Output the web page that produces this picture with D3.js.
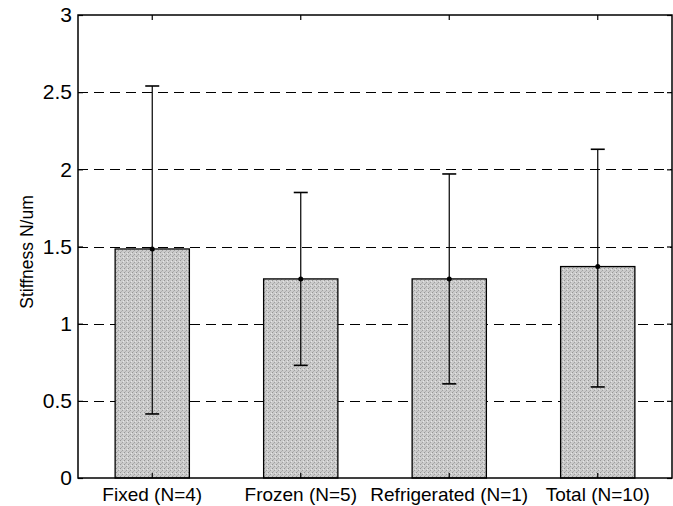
<!DOCTYPE html>
<html><head><meta charset="utf-8">
<script src="https://cdn.jsdelivr.net/npm/d3@7"></script>
<style>body{margin:0;background:#fff}svg{display:block}text{font-family:"Liberation Sans",Arial,sans-serif}</style>
</head><body>
<script>
const categories = ["Fixed (N=4)", "Frozen (N=5)", "Refrigerated (N=1)", "Total (N=10)"];
const means = [1.484, 1.29, 1.29, 1.37];
const upper = [2.54, 1.85, 1.97, 2.13];
const lower = [0.415, 0.73, 0.61, 0.59];
const yTicks = [0, 0.5, 1, 1.5, 2, 2.5, 3];
const yLabel = "Stiffness N/um";

const W = 673, H = 506;
const m = {left: 78, right: 1, top: 15, bottom: 28};
const svg = d3.select("body").append("svg").attr("width", W).attr("height", H);
const x = d3.scaleBand().domain(categories).range([m.left, W - m.right]).paddingInner(0.5).paddingOuter(0.25);
const y = d3.scaleLinear().domain([0, 3]).range([H - m.bottom, m.top]);

const defs = svg.append("defs");
const pat = defs.append("pattern").attr("id","stip").attr("width",4).attr("height",4).attr("patternUnits","userSpaceOnUse");
pat.append("rect").attr("width",4).attr("height",4).attr("fill","#cbcbcb");
pat.append("rect").attr("x",0).attr("y",0).attr("width",1).attr("height",1).attr("fill","#959595");
pat.append("rect").attr("x",2).attr("y",2).attr("width",1).attr("height",1).attr("fill","#a0a0a0");
pat.append("rect").attr("x",3).attr("y",1).attr("width",1).attr("height",1).attr("fill","#e6e6e6");
pat.append("rect").attr("x",1).attr("y",3).attr("width",1).attr("height",1).attr("fill","#b0b0b0");

// grid
svg.append("g").selectAll("line").data(yTicks.filter(d => d > 0 && d < 3)).join("line")
  .attr("x1", m.left).attr("x2", W - m.right)
  .attr("y1", d => Math.round(y(d)) + 0.5).attr("y2", d => Math.round(y(d)) + 0.5)
  .attr("stroke", "#000").attr("stroke-width", 1.2).attr("stroke-dasharray", "10,6");

// bars
svg.append("g").selectAll("rect").data(categories).join("rect")
  .attr("x", d => x(d)).attr("width", x.bandwidth())
  .attr("y", (d, i) => y(means[i])).attr("height", (d, i) => y(0) - y(means[i]))
  .attr("fill", "url(#stip)").attr("stroke", "#000").attr("stroke-width", 1.3);

// error bars
const eb = svg.append("g").attr("stroke", "#000").attr("stroke-width", 1.2);
categories.forEach((c, i) => {
  const cx = x(c) + x.bandwidth() / 2;
  eb.append("line").attr("x1", cx).attr("x2", cx).attr("y1", y(lower[i])).attr("y2", y(upper[i]));
  [lower[i], upper[i]].forEach(v => eb.append("line").attr("x1", cx - 7).attr("x2", cx + 7).attr("y1", y(v)).attr("y2", y(v)).attr("stroke-width", 1.6));
  svg.append("circle").attr("cx", cx).attr("cy", y(means[i])).attr("r", 2.5).attr("fill", "#000");
});

// axes
const yAxis = d3.axisLeft(y).tickValues(yTicks).tickFormat(d3.format("")).tickSizeInner(-5).tickSizeOuter(0).tickPadding(6);
const gy = svg.append("g").attr("transform", `translate(${m.left},0)`).call(yAxis);
const yAxisR = d3.axisRight(y).tickValues(yTicks).tickFormat("").tickSizeInner(-5).tickSizeOuter(0);
svg.append("g").attr("transform", `translate(${W - m.right},0)`).call(yAxisR);
const xAxis = d3.axisBottom(x).tickSizeInner(-5).tickSizeOuter(0).tickPadding(10);
const gx = svg.append("g").attr("transform", `translate(0,${H - m.bottom})`).call(xAxis);
const xAxisT = d3.axisTop(x).tickFormat("").tickSizeInner(-5).tickSizeOuter(0);
svg.append("g").attr("transform", `translate(0,${m.top})`).call(xAxisT);
svg.selectAll(".domain").remove();
svg.selectAll(".tick line").attr("stroke", "#000").attr("stroke-width", 1.2);
gx.selectAll(".tick text").attr("fill", "#000").style("font-size", "19px");
gy.selectAll(".tick text").attr("fill", "#000").style("font-size", "21px");

// box
svg.append("rect").attr("x", m.left).attr("y", m.top).attr("width", W - m.right - m.left).attr("height", H - m.bottom - m.top)
  .attr("fill", "none").attr("stroke", "#000").attr("stroke-width", 1.5);

svg.append("text").attr("transform", `translate(33,252) rotate(-90)`)
  .attr("text-anchor", "middle").style("font-size", "17.5px").attr("fill", "#000").text(yLabel);
</script>
</body></html>
